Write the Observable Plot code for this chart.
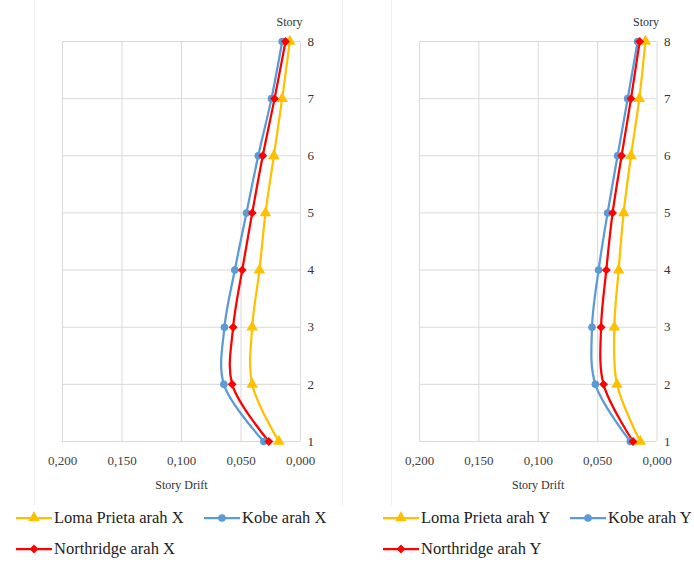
<!DOCTYPE html>
<html>
<head>
<meta charset="utf-8">
<script src="https://cdn.jsdelivr.net/npm/d3@7"></script>
<script src="https://cdn.jsdelivr.net/npm/@observablehq/plot@0.6"></script>
<style>
  html, body { margin: 0; padding: 0; background: #fff; }
  body { width: 694px; height: 563px; position: relative; overflow: hidden; font-family: "Liberation Serif", "Tinos", "Times New Roman", "DejaVu Serif", serif; }
  .panel { position: absolute; top: 0; }
  .frame { position: absolute; top: 0; height: 505px; border-left: 1px solid #f0f0f0; border-right: 1px solid #f0f0f0; box-sizing: border-box; }
  .leg { position: absolute; display: flex; align-items: center; font-size: 16.5px; color: #222; white-space: nowrap; font-family: "Liberation Serif", "Tinos", "Times New Roman", "DejaVu Serif", serif; }
  .leg svg { display: block; margin-right: 2px; }
  svg text { font-family: "Liberation Serif", "Tinos", "Times New Roman", "DejaVu Serif", serif; }
</style>
</head>
<body>
<div class="frame" style="left:34px;width:309px"></div>
<div class="frame" style="left:391px;width:320px"></div>
<div id="c1" class="panel" style="left:0px"></div>
<div id="c2" class="panel" style="left:347px"></div>
<div id="legend"></div>
<script>
const stories = [1, 2, 3, 4, 5, 6, 7, 8];
const xTicks = [0, 0.05, 0.1, 0.15, 0.2];
const seriesNames = ["Loma Prieta", "Kobe", "Northridge"];
const colors = ["#FFC000", "#5B9BD5", "#FF0000"];
const symbols = ["triangle", "circle", "diamond2"];

// Arah X
const lomaX  = [0.0182, 0.0406, 0.0406, 0.0345, 0.0294, 0.0224, 0.0154, 0.0090];
const kobeX  = [0.0308, 0.0644, 0.0639, 0.0552, 0.0454, 0.0355, 0.0244, 0.0154];
const northX = [0.0266, 0.0574, 0.0566, 0.0490, 0.0406, 0.0317, 0.0218, 0.0126];
// Arah Y
const lomaY  = [0.0141, 0.0337, 0.0359, 0.0323, 0.0281, 0.0219, 0.0149, 0.0098];
const kobeY  = [0.0225, 0.0519, 0.0547, 0.0492, 0.0416, 0.0332, 0.0247, 0.0163];
const northY = [0.0202, 0.0450, 0.0471, 0.0427, 0.0374, 0.0298, 0.0219, 0.0146];

const radii = [4.3, 3.8, 4.0];
const FONT = "'Liberation Serif', Tinos, 'Times New Roman', 'DejaVu Serif', serif";

function toRows(arrays) {
  const rows = [];
  arrays.forEach((arr, si) => arr.forEach((v, i) => rows.push({series: si, story: stories[i], drift: v})));
  return rows;
}

function makeChart(arrays, marginLeft, marginRight) {
  const rows = toRows(arrays);
  const marks = [
    Plot.gridX(xTicks, {stroke: "#d9d9d9", strokeOpacity: 1, strokeWidth: 1}),
    Plot.gridY(stories, {stroke: "#d9d9d9", strokeOpacity: 1, strokeWidth: 1}),
    Plot.axisX(xTicks, {tickSize: 0, tickPadding: 14, label: null, fill: "#404040",
      tickFormat: d => d.toFixed(3).replace(".", ",")}),
    Plot.axisY(stories, {anchor: "right", tickSize: 0, tickPadding: 7, label: null, fill: "#333333",
      tickFormat: d => String(d)}),
    Plot.text(["Story Drift"], {frameAnchor: "bottom", dy: 47, fill: "#333333", fontSize: 12}),
    Plot.text(["Story"], {frameAnchor: "top-right", dx: 2, dy: -24, fill: "#333333", fontSize: 12})
  ];
  [0, 1, 2].forEach(si => {
    const d = rows.filter(r => r.series === si);
    marks.push(Plot.line(d, {x: "drift", y: "story", stroke: colors[si], strokeWidth: 2.25, curve: "catmull-rom"}));
  });
  [0, 1, 2].forEach(si => {
    const d = rows.filter(r => r.series === si);
    marks.push(Plot.dot(d, {x: "drift", y: "story", fill: colors[si], stroke: "none",
      symbol: symbols[si], r: radii[si]}));
  });
  return Plot.plot({
    width: 347, height: 500,
    marginTop: 41, marginBottom: 59, marginLeft, marginRight,
    style: {fontFamily: FONT, fontSize: "13px", background: "transparent"},
    x: {domain: [0.2, 0]},
    y: {domain: [1, 8]},
    marks
  });
}

document.getElementById("c1").append(makeChart([lomaX, kobeX, northX], 62, 47));
document.getElementById("c2").append(makeChart([lomaY, kobeY, northY], 72, 37.5));

// Legend
const legendItems = [
  {si: 0, label: "Loma Prieta arah X", left: 16, top: 518},
  {si: 1, label: "Kobe arah X", left: 204, top: 518},
  {si: 2, label: "Northridge arah X", left: 16, top: 549},
  {si: 0, label: "Loma Prieta arah Y", left: 383, top: 518},
  {si: 1, label: "Kobe arah Y", left: 570, top: 518},
  {si: 2, label: "Northridge arah Y", left: 383, top: 549}
];
const symMap = {triangle: d3.symbolTriangle, circle: d3.symbolCircle, diamond2: d3.symbolDiamond2};
const legend = document.getElementById("legend");
legendItems.forEach(it => {
  const div = document.createElement("div");
  div.className = "leg";
  div.style.left = it.left + "px";
  div.style.top = (it.top - 10) + "px";
  div.style.height = "20px";
  const s = d3.create("svg").attr("width", 36).attr("height", 14);
  s.append("line").attr("x1", 0).attr("x2", 36).attr("y1", 7).attr("y2", 7)
    .attr("stroke", colors[it.si]).attr("stroke-width", 2.25);
  const r = radii[it.si];
  s.append("path").attr("transform", "translate(18,7)")
    .attr("d", d3.symbol(symMap[symbols[it.si]], Math.PI * r * r)())
    .attr("fill", colors[it.si]);
  div.append(s.node());
  const t = document.createElement("span");
  t.textContent = it.label;
  div.append(t);
  legend.append(div);
});
</script>
</body>
</html>
